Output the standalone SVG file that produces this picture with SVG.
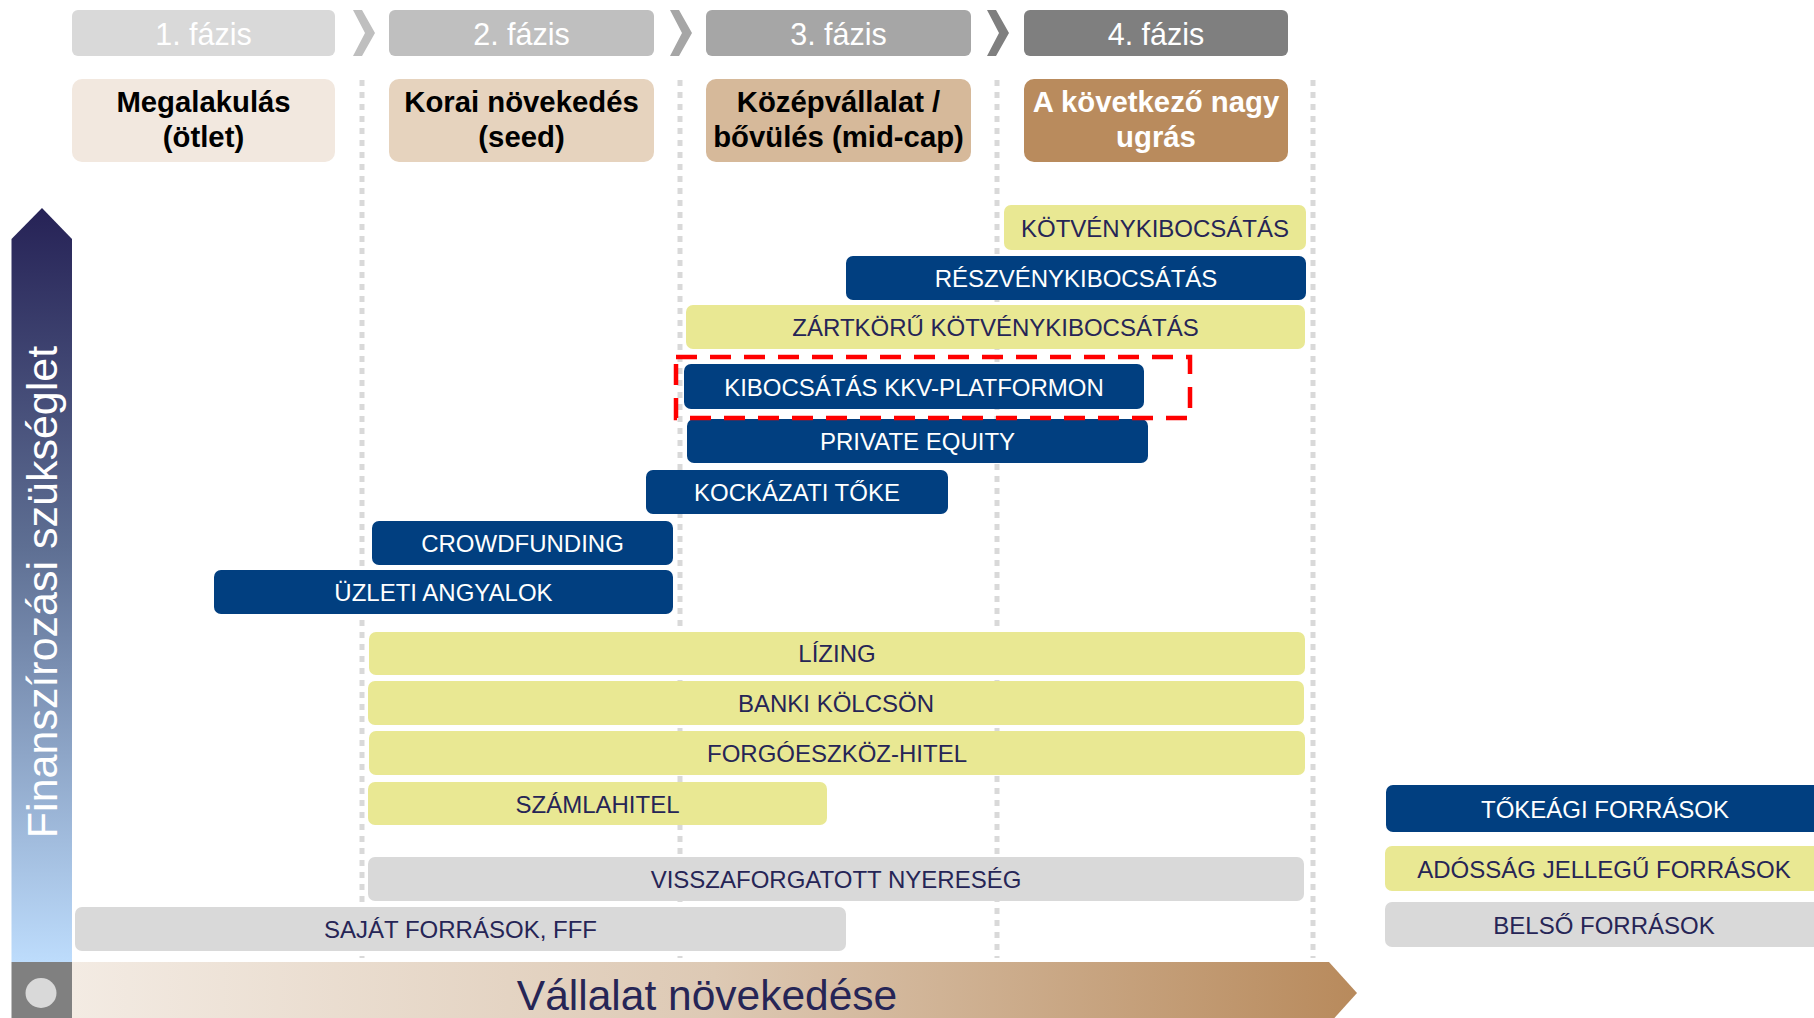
<svg xmlns="http://www.w3.org/2000/svg" width="1814" height="1018" viewBox="0 0 1814 1018">
<defs>
<linearGradient id="gUp" x1="0" y1="0" x2="0" y2="1">
<stop offset="0" stop-color="#262256"/>
<stop offset="0.45" stop-color="#5e6f93"/>
<stop offset="1" stop-color="#bddcfc"/>
</linearGradient>
<linearGradient id="gRight" x1="0" y1="0" x2="1" y2="0">
<stop offset="0" stop-color="#f3ebe3"/>
<stop offset="0.5" stop-color="#ddc9b4"/>
<stop offset="1" stop-color="#b88a5c"/>
</linearGradient>
<style>
.t{font-family:"Liberation Sans",Arial,sans-serif;text-anchor:middle}
.ph{font-size:30.5px;fill:#ffffff}
.st{font-size:29.3px;font-weight:bold;fill:#000000}
.bt{font-size:24px}
.navy{fill:#013f80}
.yel{fill:#e9e893}
.gry{fill:#d9d9d9}
.wt{fill:#ffffff}
.dk{fill:#262556}
.guide{stroke:#d9d9d9;stroke-width:5;stroke-dasharray:6 6;fill:none}
</style>
</defs>
<rect width="1814" height="1018" fill="#ffffff"/>

<g id="guides">
<line class="guide" x1="362" y1="80" x2="362" y2="958"/>
<line class="guide" x1="680" y1="80" x2="680" y2="958"/>
<line class="guide" x1="997" y1="80" x2="997" y2="958"/>
<line class="guide" x1="1313" y1="80" x2="1313" y2="958"/>
</g>

<g id="phase1"><rect x="72" y="10" width="263" height="46" rx="6" fill="#d9d9d9"/><text class="t ph" x="203.5" y="44.5">1. fázis</text></g>
<g id="phase2"><rect x="389" y="10" width="265" height="46" rx="6" fill="#bfbfbf"/><text class="t ph" x="521.5" y="44.5">2. fázis</text></g>
<g id="phase3"><rect x="706" y="10" width="265" height="46" rx="6" fill="#a6a6a6"/><text class="t ph" x="838.5" y="44.5">3. fázis</text></g>
<g id="phase4"><rect x="1024" y="10" width="264" height="46" rx="6" fill="#7f7f7f"/><text class="t ph" x="1156" y="44.5">4. fázis</text></g>
<g id="chevrons">
<polygon points="353,10 362,10 375,33 362,56 353,56 365,33" fill="#bfbfbf"/>
<polygon points="670,10 679,10 692,33 679,56 670,56 682,33" fill="#a6a6a6"/>
<polygon points="987,10 996,10 1009,33 996,56 987,56 999,33" fill="#7f7f7f"/>
</g>

<g id="stage1"><rect x="72" y="79" width="263" height="83" rx="10" fill="#f2e8df"/><text class="t st" x="203.5" y="112">Megalakulás</text><text class="t st" x="203.5" y="147">(ötlet)</text></g>
<g id="stage2"><rect x="389" y="79" width="265" height="83" rx="10" fill="#e6d3be"/><text class="t st" x="521.5" y="112">Korai növekedés</text><text class="t st" x="521.5" y="147">(seed)</text></g>
<g id="stage3"><rect x="706" y="79" width="265" height="83" rx="10" fill="#d6b99a"/><text class="t st" x="838.5" y="112">Középvállalat /</text><text class="t st" x="838.5" y="147">bővülés (mid-cap)</text></g>
<g id="stage4"><rect x="1024" y="79" width="264" height="83" rx="10" fill="#b98b5d"/><text class="t st" x="1156" y="112" style="fill:#ffffff">A következő nagy</text><text class="t st" x="1156" y="147" style="fill:#ffffff">ugrás</text></g>

<g id="yaxis">
<polygon points="11.5,239 42,208 72,239 72,962 11.5,962" fill="url(#gUp)"/>
<text class="t" x="0" y="0" transform="translate(57,592) rotate(-90)" font-size="43" fill="#ffffff">Finanszírozási szükséglet</text>
</g>
<g id="corner"><rect x="11.5" y="962" width="60.5" height="56" fill="#808080"/><ellipse cx="41" cy="993" rx="15.5" ry="15" fill="#d9d9d9"/></g>
<g id="xaxis">
<polygon points="72,962 1329,962 1357,993 1329,1024 72,1024" fill="url(#gRight)"/>
<text class="t" x="707" y="1010" font-size="42.5" fill="#262556">Vállalat növekedése</text>
</g>

<g id="b-kotveny"><rect class="yel" x="1004" y="205" width="302" height="45" rx="7"/><text class="t bt dk" x="1155" y="236.5">KÖTVÉNYKIBOCSÁTÁS</text></g>
<g id="b-reszveny"><rect class="navy" x="846" y="256" width="460" height="44" rx="7"/><text class="t bt wt" x="1076" y="286.5">RÉSZVÉNYKIBOCSÁTÁS</text></g>
<g id="b-zartkoru"><rect class="yel" x="686" y="305" width="619" height="44" rx="7"/><text class="t bt dk" x="995.5" y="336">ZÁRTKÖRŰ KÖTVÉNYKIBOCSÁTÁS</text></g>
<g id="b-kkv"><rect class="navy" x="684" y="364" width="460" height="45" rx="7"/><text class="t bt wt" x="914" y="396">KIBOCSÁTÁS KKV-PLATFORMON</text></g>
<g id="b-pe"><rect class="navy" x="687" y="419" width="461" height="44" rx="7"/><text class="t bt wt" x="917.5" y="450">PRIVATE EQUITY</text></g>
<g id="b-kockazati"><rect class="navy" x="646" y="470" width="302" height="44" rx="7"/><text class="t bt wt" x="797" y="500.5">KOCKÁZATI TŐKE</text></g>
<g id="b-crowd"><rect class="navy" x="372" y="521" width="301" height="44" rx="7"/><text class="t bt wt" x="522.5" y="551.5">CROWDFUNDING</text></g>
<g id="b-uzleti"><rect class="navy" x="214" y="570" width="459" height="44" rx="7"/><text class="t bt wt" x="443.5" y="601">ÜZLETI ANGYALOK</text></g>
<g id="b-lizing"><rect class="yel" x="369" y="632" width="936" height="43" rx="7"/><text class="t bt dk" x="837" y="662">LÍZING</text></g>
<g id="b-banki"><rect class="yel" x="368" y="681" width="936" height="44" rx="7"/><text class="t bt dk" x="836" y="712">BANKI KÖLCSÖN</text></g>
<g id="b-forgo"><rect class="yel" x="369" y="731" width="936" height="44" rx="7"/><text class="t bt dk" x="837" y="762">FORGÓESZKÖZ-HITEL</text></g>
<g id="b-szamla"><rect class="yel" x="368" y="782" width="459" height="43" rx="7"/><text class="t bt dk" x="597.5" y="812.5">SZÁMLAHITEL</text></g>
<g id="b-vissza"><rect class="gry" x="368" y="857" width="936" height="44" rx="7"/><text class="t bt dk" x="836" y="887.5">VISSZAFORGATOTT NYERESÉG</text></g>
<g id="b-sajat"><rect class="gry" x="75" y="907" width="771" height="44" rx="7"/><text class="t bt dk" x="460.5" y="937.5">SAJÁT FORRÁSOK, FFF</text></g>

<g id="highlight"><rect x="676" y="357" width="514" height="61" fill="none" stroke="#ff0000" stroke-width="4.5" stroke-dasharray="21 13"/></g>

<g id="legend-equity"><rect class="navy" x="1386" y="785" width="450" height="47" rx="7"/><text class="t bt wt" x="1605" y="818">TŐKEÁGI FORRÁSOK</text></g>
<g id="legend-debt"><rect class="yel" x="1385" y="846" width="450" height="45" rx="7"/><text class="t bt dk" x="1604" y="877.5">ADÓSSÁG JELLEGŰ FORRÁSOK</text></g>
<g id="legend-internal"><rect class="gry" x="1385" y="902" width="450" height="45" rx="7"/><text class="t bt dk" x="1604" y="934">BELSŐ FORRÁSOK</text></g>
</svg>
